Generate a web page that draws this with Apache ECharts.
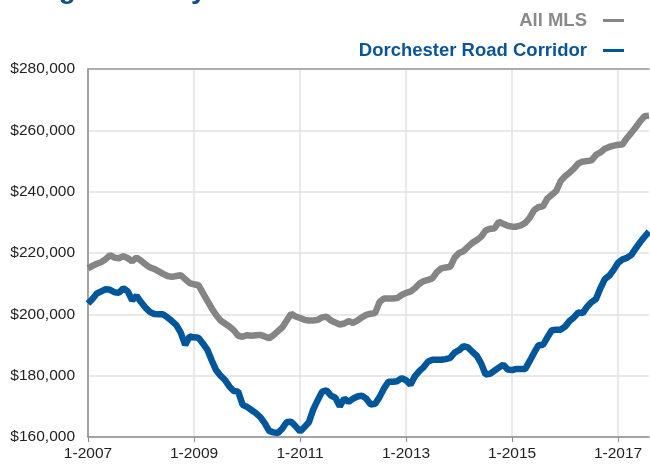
<!DOCTYPE html>
<html>
<head>
<meta charset="utf-8">
<script src="https://cdn.jsdelivr.net/npm/echarts@6/dist/echarts.min.js"></script>
<style>
  html, body { margin: 0; padding: 0; background: #fff; }
  #chart { width: 650px; height: 466px; }
</style>
</head>
<body>
<div id="chart"></div>
<script>
// months from 1-2007 to 8-2017
const months = []
for (let y = 2007; y <= 2017; y++) {
  for (let m = 1; m <= 12; m++) {
    if (y === 2017 && m > 8) break
    months.push(m + '-' + y)
  }
}

// All MLS, thousands of dollars
const allMls = [
  215.0, 215.8, 216.5, 217.0, 218.0, 219.3, 218.5, 218.3, 219.0, 218.3, 217.3, 218.5,
  217.5, 216.3, 215.3, 214.8, 214.0, 213.2, 212.5, 212.2, 212.5, 212.8, 211.5, 210.2,
  209.8, 209.5, 207.0, 204.5, 202.0, 199.8, 198.0, 197.0, 196.0, 194.8, 193.0, 192.7,
  193.2, 193.0, 193.2, 193.3, 192.8, 192.2, 193.2, 194.5, 195.8, 198.0, 200.2, 199.3,
  198.8, 198.2, 198.0, 198.0, 198.2, 199.0, 199.2, 198.0, 197.3, 196.7, 197.0, 197.8,
  197.2, 198.0, 199.0, 199.8, 200.2, 200.4, 204.0, 205.2, 205.2, 205.2, 205.3, 206.3,
  207.0, 207.4, 208.5, 210.0, 210.8, 211.2, 211.8, 213.8, 215.0, 215.3, 215.5, 218.5,
  220.0, 220.6, 222.0, 223.3, 224.2, 225.3, 227.3, 227.9, 228.0, 230.2, 229.5, 228.9,
  228.6, 228.6, 229.0, 229.8, 231.5, 234.0, 235.0, 235.2, 237.8, 239.0, 240.2, 243.5,
  245.0, 246.2, 247.5, 249.2, 249.8, 250.0, 250.2, 252.0, 252.8, 254.0, 254.6, 255.0,
  255.3, 255.4, 257.5, 259.2, 261.0, 263.0, 264.6, 264.8
]

// Dorchester Road Corridor, thousands of dollars
const dorchester = [
  203.5, 205.0, 206.8, 207.5, 208.2, 208.0, 207.2, 207.0, 208.5, 207.5, 204.6, 206.0,
  204.0, 202.2, 200.8, 200.1, 200.0, 200.0, 199.0, 197.8, 196.5, 194.0, 190.0, 192.8,
  192.5, 192.4, 190.5, 188.5, 185.0, 181.8, 180.0, 178.6, 176.5, 175.0, 174.8, 170.5,
  169.8, 168.8, 167.8, 166.5, 164.5, 162.0, 161.5, 161.3, 162.8, 164.9, 165.0, 163.5,
  161.8, 163.2, 164.8, 169.0, 172.0, 174.8, 175.2, 173.5, 172.8, 170.0, 172.5, 171.5,
  172.5, 173.2, 173.5, 172.5, 170.6, 170.8, 173.0, 175.8, 178.0, 178.0, 178.2, 179.2,
  178.5, 177.0, 179.8, 181.5, 182.8, 184.6, 185.2, 185.2, 185.2, 185.4, 185.8, 187.5,
  188.3, 189.6, 189.2, 187.8, 186.5, 184.0, 180.4, 180.6, 181.6, 182.6, 183.6, 182.0,
  181.8, 182.2, 182.2, 182.2, 184.8, 187.5, 190.0, 190.0, 192.5, 194.8, 195.0, 195.0,
  196.0, 197.8, 199.0, 200.6, 200.4, 202.5, 204.0, 205.0, 208.5, 211.5, 212.6, 214.5,
  216.8, 217.9, 218.4, 219.4, 221.5, 223.5, 225.3, 227.0
]

const chart = echarts.init(document.getElementById('chart'))

const labelEvery = (i) => i % 24 === 0

chart.setOption({
  animation: false,
  textStyle: { fontFamily: 'Liberation Sans, Arial, sans-serif' },
  graphic: [
    {
      type: 'text',
      left: -18,
      top: -24,
      style: {
        text: 'Average Monthly Sales Price',
        fill: '#0b4f8a',
        font: 'bold 28px "Liberation Sans", Arial, sans-serif'
      }
    }
  ],
  legend: {
    orient: 'vertical',
    right: 21,
    top: 6,
    align: 'right',
    icon: 'rect',
    itemWidth: 21,
    itemHeight: 3,
    itemGap: 11,
    selectedMode: false,
    textStyle: {
      fontFamily: '"Liberation Sans", Arial, sans-serif',
      fontWeight: 'bold',
      fontSize: 18.5,
      padding: [0, 11, 0, 0]
    },
    data: [
      { name: 'All MLS', textStyle: { color: '#8a8a8a' } },
      { name: 'Dorchester Road Corridor', textStyle: { color: '#0a5597' } }
    ]
  },
  grid: { left: 88, right: 1, top: 69, bottom: 29 },
  xAxis: [
    {
      type: 'category',
      data: months,
      boundaryGap: false,
      axisLine: { lineStyle: { color: '#8c8c8c', width: 1.5 } },
      axisTick: { interval: labelEvery, length: 5, lineStyle: { color: '#8c8c8c' } },
      axisLabel: { interval: labelEvery, color: '#222', fontSize: 15.5, margin: 9 },
      splitLine: { show: true, interval: labelEvery, lineStyle: { color: '#e2e2e2', width: 1.5 } }
    },
    {
      type: 'category',
      data: months,
      position: 'top',
      boundaryGap: false,
      axisLine: { lineStyle: { color: '#9a9a9a', width: 1.5 } },
      axisTick: { show: false },
      axisLabel: { show: false }
    }
  ],
  yAxis: {
    type: 'value',
    min: 160000,
    max: 280000,
    interval: 20000,
    axisLine: { show: true, lineStyle: { color: '#8c8c8c', width: 1.5 } },
    axisTick: { show: false },
    axisLabel: {
      color: '#222',
      fontSize: 15.5,
      margin: 13,
      formatter: (v) => '$' + v.toLocaleString('en-US')
    },
    splitLine: { lineStyle: { color: '#e2e2e2', width: 1.5 } }
  },
  series: [
    {
      name: 'All MLS',
      type: 'line',
      data: allMls.map((v) => v * 1000),
      showSymbol: false,
      itemStyle: { color: '#858585' },
      lineStyle: { color: '#858585', width: 6.5 }
    },
    {
      name: 'Dorchester Road Corridor',
      type: 'line',
      data: dorchester.map((v) => v * 1000),
      showSymbol: false,
      itemStyle: { color: '#00569b' },
      lineStyle: { color: '#00569b', width: 6.5 }
    }
  ]
})
</script>
</body>
</html>
